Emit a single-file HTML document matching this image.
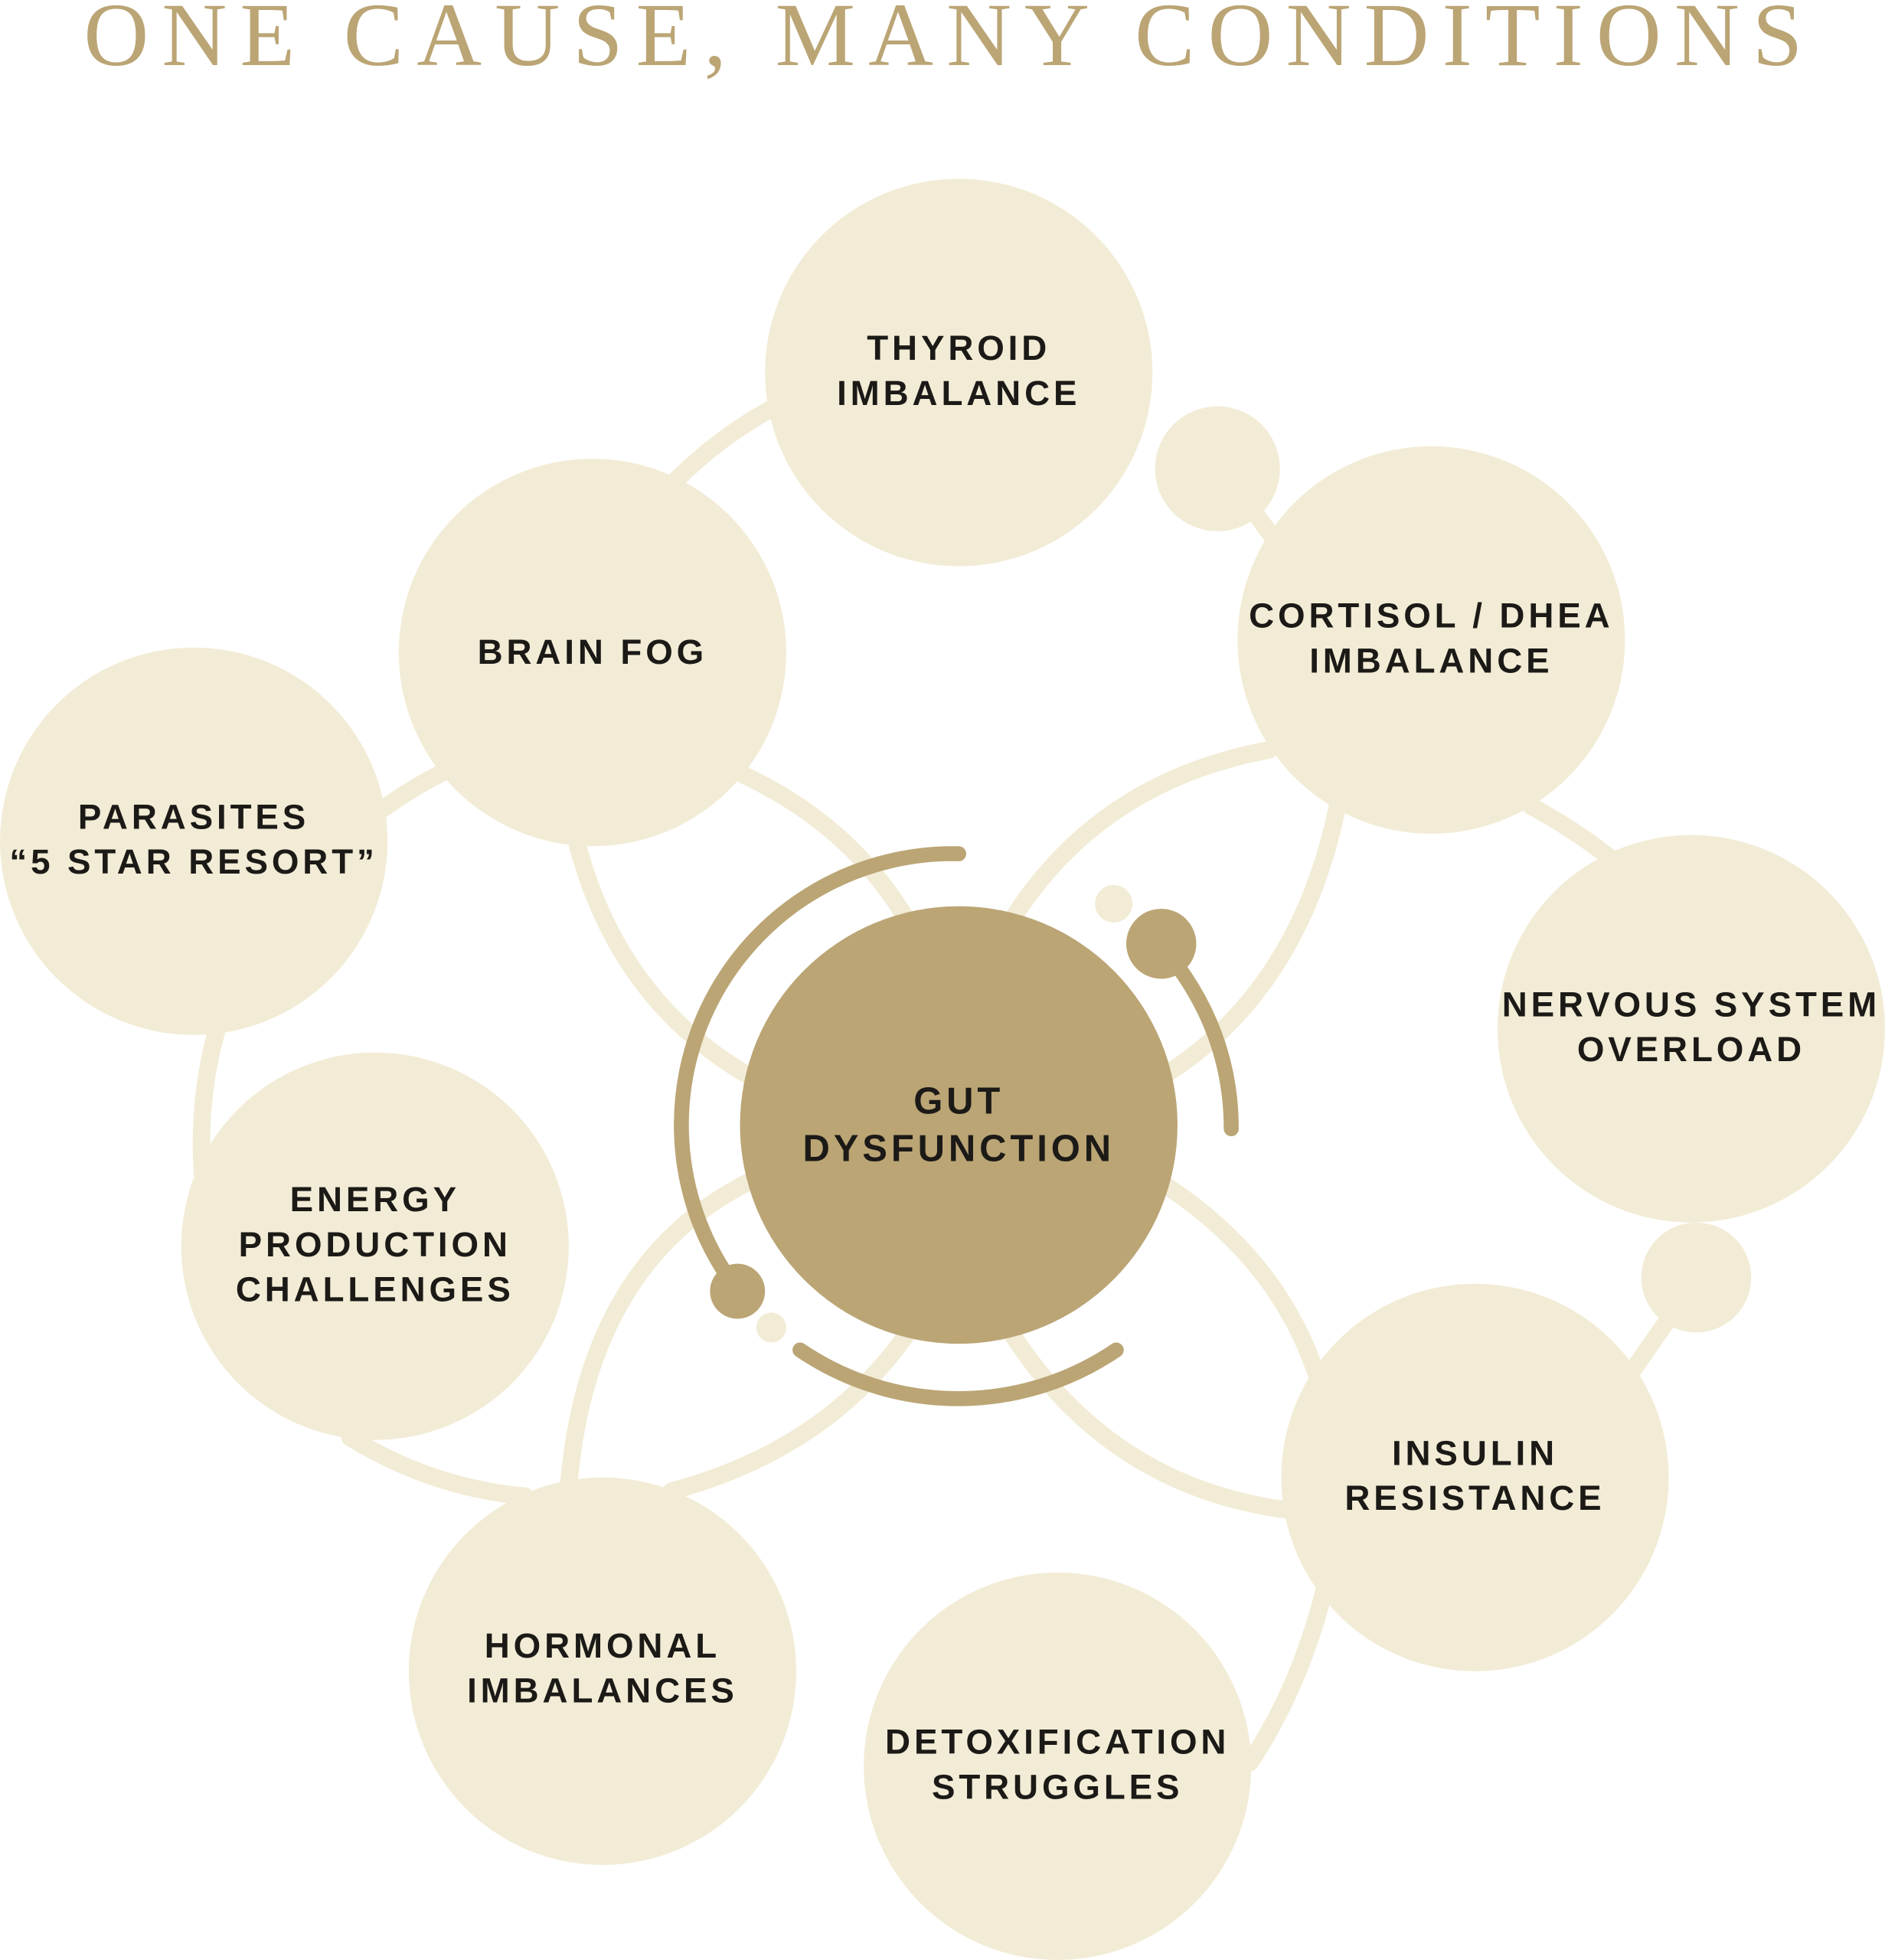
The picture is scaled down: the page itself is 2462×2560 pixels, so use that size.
<!DOCTYPE html>
<html><head><meta charset="utf-8"><style>
html,body{margin:0;padding:0;background:#fff;}
svg{display:block;}
.l{font-family:"Liberation Sans",sans-serif;font-weight:bold;font-size:28px;letter-spacing:3px;fill:#1c1a17;text-anchor:middle;}
</style></head><body>
<svg width="2462" height="2560" viewBox="0 0 1508 1568" xmlns="http://www.w3.org/2000/svg">
<text x="67" y="52" textLength="1375" lengthAdjust="spacing" font-family="Liberation Serif, serif" font-size="72" fill="#bba575">ONE CAUSE, MANY CONDITIONS</text>
<g fill="none" stroke="#f2ecd6" stroke-width="14" stroke-linecap="round">
<path d="M540 385 Q575 350 617 327"/>
<path d="M305 648 Q330 630 356 617"/>
<path d="M173 826 Q158 880 162 940"/>
<path d="M280 1150 Q345 1190 420 1197"/>
<path d="M455 1188 Q470 1010 600 945"/>
<path d="M537 1193 Q660 1160 725 1068"/>
<path d="M462 676 Q495 800 598 860"/>
<path d="M595 620 Q680 660 725 735"/>
<path d="M1015 600 Q880 625 810 735"/>
<path d="M1070 645 Q1040 790 935 858"/>
<path d="M1225 645 Q1262 665 1290 688"/>
<path d="M1000 405 L1022 435"/>
<path d="M1305 1098 L1335 1055"/>
<path d="M935 950 Q1025 1010 1055 1105"/>
<path d="M810 1068 Q890 1190 1030 1208"/>
<path d="M1060 1270 Q1040 1350 1000 1410"/>
</g>
<g fill="#f2ecd6">
<circle cx="767" cy="298" r="155"/>
<circle cx="474" cy="522" r="155"/>
<circle cx="1145" cy="512" r="155"/>
<circle cx="155" cy="673" r="155"/>
<circle cx="1353" cy="823" r="155"/>
<circle cx="300" cy="997" r="155"/>
<circle cx="1180" cy="1182" r="155"/>
<circle cx="482" cy="1337" r="155"/>
<circle cx="846" cy="1413" r="155"/>
<circle cx="974" cy="375" r="50"/>
<circle cx="1357" cy="1022" r="44"/>
<circle cx="891" cy="723" r="15"/>
<circle cx="617" cy="1062" r="12"/>
</g>
<g fill="none" stroke="#bba575" stroke-width="12" stroke-linecap="round">
<path d="M767 683 A217 217 0 0 0 580 1018"/>
<path d="M640 1080 A225 225 0 0 0 893 1080"/>
<path d="M940 770 Q985 830 985 903"/>
</g>
<circle cx="767" cy="900" r="175" fill="#bba575"/>
<circle cx="929" cy="755" r="28" fill="#bba575"/>
<circle cx="590" cy="1033" r="22" fill="#bba575"/>
<text class="l" x="767" y="288">THYROID</text><text class="l" x="767" y="324">IMBALANCE</text>
<text class="l" x="474" y="531">BRAIN FOG</text>
<text class="l" x="1145" y="502">CORTISOL / DHEA</text><text class="l" x="1145" y="538">IMBALANCE</text>
<text class="l" x="155" y="663">PARASITES</text><text class="l" x="155" y="699">“5 STAR RESORT”</text>
<text class="l" x="1353" y="813">NERVOUS SYSTEM</text><text class="l" x="1353" y="849">OVERLOAD</text>
<text class="l" x="300" y="969">ENERGY</text><text class="l" x="300" y="1005">PRODUCTION</text><text class="l" x="300" y="1041">CHALLENGES</text>
<text class="l" x="767" y="891" style="font-size:30px">GUT</text><text class="l" x="767" y="929" style="font-size:30px">DYSFUNCTION</text>
<text class="l" x="1180" y="1172">INSULIN</text><text class="l" x="1180" y="1208">RESISTANCE</text>
<text class="l" x="482" y="1326">HORMONAL</text><text class="l" x="482" y="1362">IMBALANCES</text>
<text class="l" x="846" y="1403">DETOXIFICATION</text><text class="l" x="846" y="1439">STRUGGLES</text>
</svg>
</body></html>
